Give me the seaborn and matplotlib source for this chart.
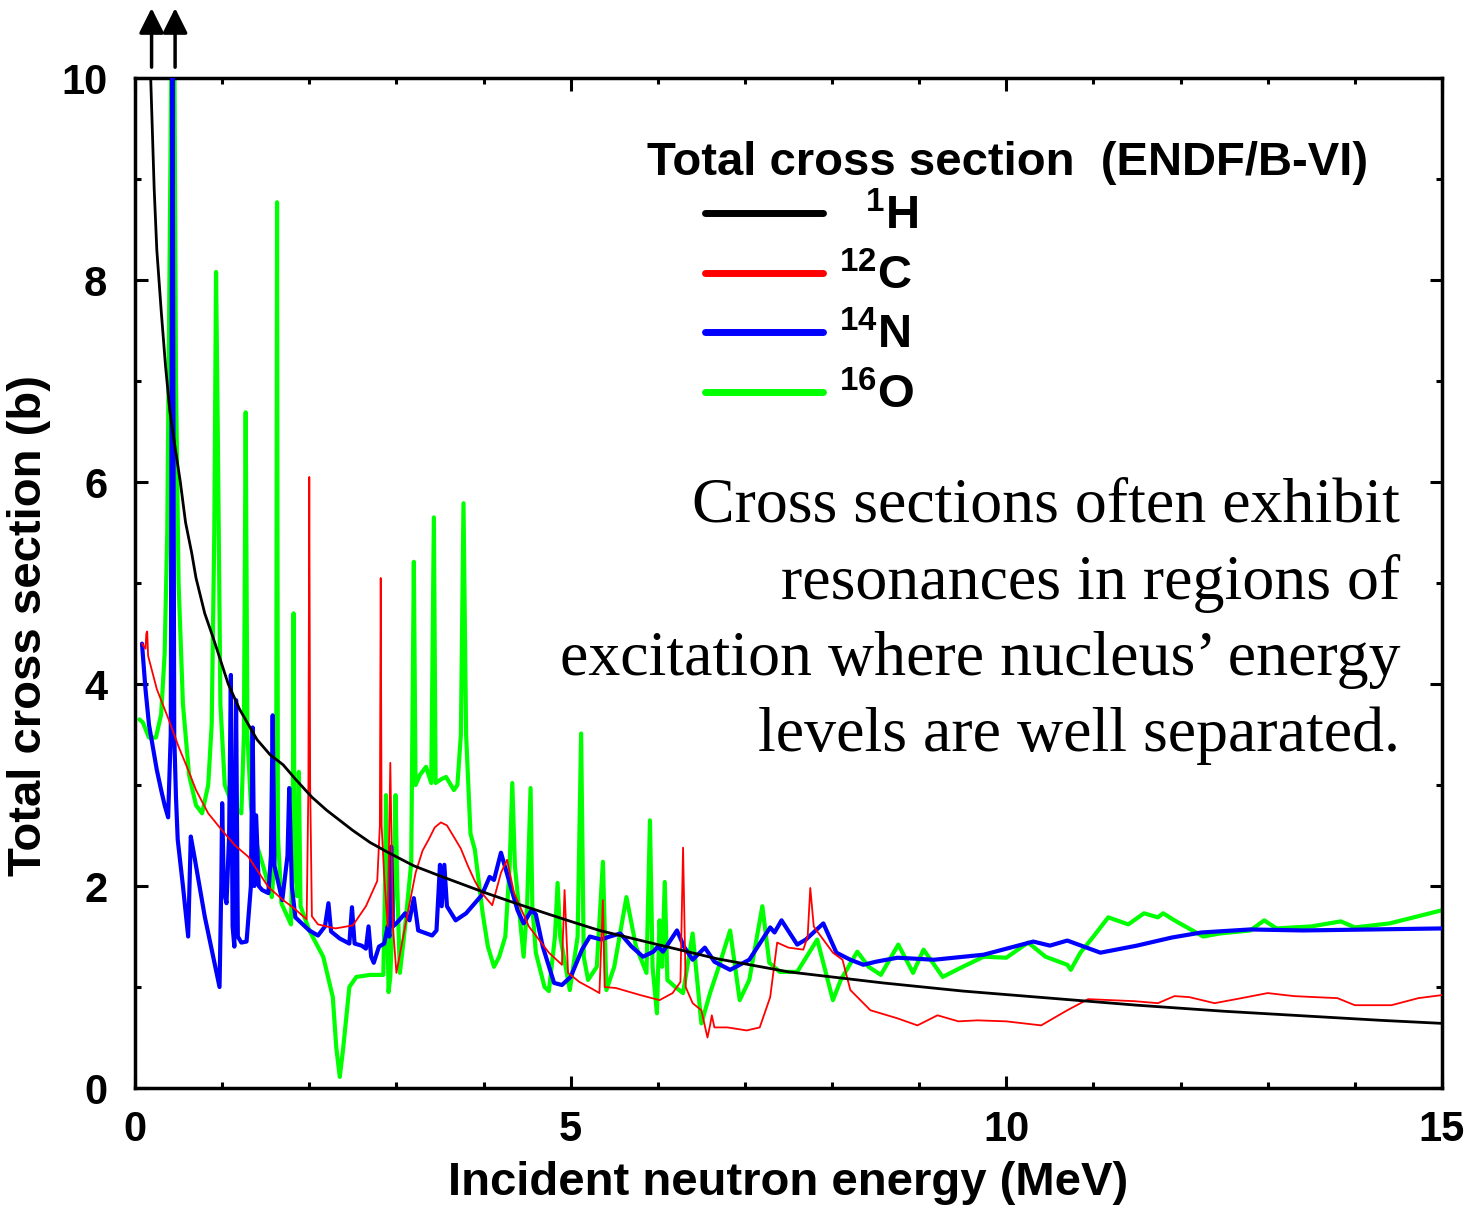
import matplotlib
matplotlib.use("Agg")
import matplotlib.pyplot as plt
import numpy as np
import pandas as pd
import seaborn as sns
from matplotlib.lines import Line2D
from matplotlib.ticker import MultipleLocator

# ENDF/B-VI total cross sections (energy in MeV, sigma in barns)
h_energy = [0.10, 0.13, 0.18, 0.22, 0.25, 0.30, 0.35, 0.40, 0.45, 0.52, 0.58, 0.65, 0.70, 0.80,
            0.90, 1.07, 1.20, 1.40, 1.55, 1.70, 1.85, 2.03, 2.20, 2.50, 2.70, 2.91, 3.20, 3.50,
            3.75, 4.03, 4.40, 4.75, 5.00, 5.33, 6.00, 6.68, 7.50, 8.59, 9.50, 10.5, 11.5, 12.5,
            13.5, 14.3, 15.0]
h_sigma = [12.7, 11.5, 10.0, 8.9, 8.3, 7.7, 7.15, 6.7, 6.4, 6.0, 5.6, 5.3, 5.05, 4.7,
           4.45, 4.0, 3.75, 3.45, 3.3, 3.2, 3.05, 2.88, 2.75, 2.55, 2.43, 2.33, 2.2, 2.1,
           2.02, 1.93, 1.82, 1.72, 1.65, 1.56, 1.42, 1.28, 1.15, 1.04, 0.96, 0.89, 0.82, 0.76,
           0.71, 0.67, 0.64]

c_energy = [0.08, 0.12, 0.13, 0.14, 0.15, 0.25, 0.39, 0.50, 0.61, 0.70, 0.84, 1.00, 1.15, 1.30,
            1.53, 1.70, 1.81, 1.97, 1.99, 2.00, 2.01, 2.03, 2.10, 2.30, 2.50, 2.65, 2.78, 2.81,
            2.82, 2.83, 2.86, 2.90, 2.93, 2.96, 3.00, 3.10, 3.22, 3.30, 3.37, 3.44, 3.51, 3.58,
            3.65, 3.74, 3.82, 3.90, 3.98, 4.10, 4.20, 4.27, 4.35, 4.52, 4.75, 4.90, 4.93, 4.97,
            5.10, 5.25, 5.33, 5.37, 5.39, 5.52, 5.80, 6.02, 6.17, 6.26, 6.29, 6.32, 6.40, 6.50,
            6.57, 6.60, 6.62, 6.65, 6.80, 7.02, 7.17, 7.29, 7.37, 7.50, 7.67, 7.72, 7.75, 7.79,
            7.83, 8.01, 8.12, 8.21, 8.44, 8.75, 8.98, 9.21, 9.45, 9.67, 10.0, 10.4, 10.7, 10.94,
            11.2, 11.47, 11.74, 11.93, 12.1, 12.39, 12.7, 13.0, 13.3, 13.54, 13.8, 14.0, 14.42,
            14.73, 15.0]
c_sigma = [4.40, 4.35, 4.50, 4.52, 4.28, 3.95, 3.64, 3.38, 3.15, 2.95, 2.72, 2.55, 2.40, 2.29,
           1.99, 1.86, 1.79, 1.67, 3.00, 6.05, 3.00, 1.70, 1.62, 1.58, 1.61, 1.80, 2.05, 2.60,
           5.05, 2.60, 2.10, 1.60, 3.22, 1.60, 1.14, 1.60, 2.13, 2.35, 2.46, 2.58, 2.63, 2.60,
           2.50, 2.37, 2.20, 2.05, 1.93, 1.81, 2.13, 2.26, 1.93, 1.60, 1.34, 1.22, 1.96, 1.14,
           1.05, 0.98, 0.94, 1.86, 1.00, 0.99, 0.92, 0.87, 0.94, 1.05, 2.38, 1.00, 0.84, 0.77,
           0.50, 0.62, 0.72, 0.60, 0.60, 0.57, 0.60, 0.90, 1.44, 1.39, 1.37, 1.50, 1.98, 1.60,
           1.55, 1.34, 1.27, 0.97, 0.77, 0.69, 0.62, 0.72, 0.66, 0.67, 0.66, 0.62, 0.77, 0.88,
           0.87, 0.86, 0.84, 0.91, 0.90, 0.84, 0.89, 0.94, 0.91, 0.90, 0.89, 0.82, 0.82,
           0.89, 0.92]

n_energy = [0.08, 0.12, 0.16, 0.20, 0.25, 0.30, 0.34, 0.38, 0.41, 0.43, 0.45, 0.47, 0.49, 0.55,
            0.61, 0.64, 0.68, 0.80, 0.97, 0.99, 1.00, 1.02, 1.05, 1.08, 1.10, 1.12, 1.14, 1.16,
            1.18, 1.22, 1.28, 1.33, 1.35, 1.37, 1.39, 1.42, 1.46, 1.53, 1.56, 1.58, 1.60, 1.69,
            1.75, 1.77, 1.80, 1.84, 2.00, 2.10, 2.18, 2.22, 2.25, 2.35, 2.46, 2.49, 2.52, 2.60,
            2.65, 2.68, 2.71, 2.74, 2.80, 2.86, 2.90, 2.92, 2.94, 2.96, 3.00, 3.10, 3.15, 3.20,
            3.25, 3.41, 3.46, 3.50, 3.52, 3.55, 3.58, 3.68, 3.80, 3.98, 4.07, 4.12, 4.20, 4.28,
            4.39, 4.46, 4.55, 4.60, 4.68, 4.81, 4.90, 5.00, 5.13, 5.22, 5.35, 5.45, 5.57, 5.70,
            5.83, 5.95, 6.00, 6.06, 6.22, 6.30, 6.40, 6.54, 6.65, 6.83, 7.05, 7.29, 7.34, 7.42,
            7.60, 7.70, 7.90, 8.05, 8.21, 8.36, 8.50, 8.75, 9.17, 9.74, 10.31, 10.5, 10.7, 11.08,
            11.5, 11.9, 12.24, 12.8, 13.4, 14.2, 15.0]
n_sigma = [4.40, 3.95, 3.60, 3.40, 3.15, 2.95, 2.80, 2.68, 3.50, 10.5, 3.50, 2.88, 2.46, 2.00,
           1.50, 2.49, 2.30, 1.70, 1.00, 2.00, 2.82, 1.95, 1.83, 2.50, 4.09, 1.60, 1.40, 3.84,
           1.50, 1.44, 1.45, 2.00, 3.57, 2.00, 2.70, 2.00, 1.96, 1.93, 2.30, 3.69, 2.20, 1.86,
           2.30, 2.97, 2.00, 1.69, 1.56, 1.51, 1.60, 1.83, 1.55, 1.48, 1.43, 1.79, 1.43, 1.41,
           1.38, 1.60, 1.30, 1.24, 1.40, 1.43, 1.60, 1.50, 2.39, 1.60, 1.63, 1.73, 1.66, 1.88,
           1.56, 1.51, 1.56, 2.21, 1.80, 2.21, 1.80, 1.66, 1.73, 1.91, 2.09, 2.06, 2.33, 2.09,
           1.76, 1.63, 1.76, 1.72, 1.40, 1.04, 1.02, 1.10, 1.37, 1.50, 1.47, 1.50, 1.53, 1.40,
           1.30, 1.35, 1.40, 1.35, 1.56, 1.40, 1.27, 1.39, 1.25, 1.17, 1.27, 1.59, 1.54, 1.66,
           1.42, 1.47, 1.63, 1.34, 1.27, 1.22, 1.25, 1.29, 1.27, 1.32, 1.45, 1.41, 1.46, 1.34,
           1.41, 1.49, 1.54, 1.57, 1.56, 1.57, 1.58]

o_energy = [0.05, 0.09, 0.16, 0.24, 0.30, 0.34, 0.37, 0.40, 0.42, 0.45, 0.47, 0.50, 0.55, 0.62,
            0.70, 0.77, 0.84, 0.88, 0.91, 0.93, 0.95, 0.98, 1.03, 1.12, 1.22, 1.25, 1.27, 1.29,
            1.33, 1.40, 1.46, 1.57, 1.62, 1.63, 1.64, 1.68, 1.79, 1.81, 1.82, 1.83, 1.86, 1.88,
            1.90, 2.00, 2.16, 2.27, 2.31, 2.35, 2.39, 2.46, 2.54, 2.70, 2.85, 2.87, 2.88, 2.89,
            2.91, 2.93, 2.97, 2.99, 3.01, 3.04, 3.10, 3.17, 3.20, 3.22, 3.27, 3.34, 3.40, 3.43,
            3.45, 3.52, 3.57, 3.66, 3.70, 3.74, 3.77, 3.80, 3.85, 3.90, 3.99, 4.05, 4.12, 4.18,
            4.25, 4.30, 4.33, 4.36, 4.46, 4.50, 4.54, 4.56, 4.60, 4.70, 4.75, 4.82, 4.85, 4.88,
            4.99, 5.08, 5.12, 5.15, 5.20, 5.30, 5.37, 5.41, 5.50, 5.64, 5.75, 5.87, 5.91, 5.94,
            5.99, 6.02, 6.05, 6.08, 6.11, 6.20, 6.29, 6.40, 6.50, 6.60, 6.70, 6.83, 6.94, 7.05,
            7.20, 7.28, 7.40, 7.60, 7.83, 8.01, 8.10, 8.29, 8.42, 8.56, 8.76, 8.93, 9.05, 9.27,
            9.50, 9.74, 10.0, 10.25, 10.45, 10.7, 10.74, 10.85, 11.0, 11.17, 11.4, 11.58, 11.74,
            11.8, 11.93, 12.26, 12.45, 12.8, 12.96, 13.1, 13.5, 13.84, 14.0, 14.4, 15.0]
o_sigma = [3.65, 3.62, 3.47, 3.47, 3.70, 4.30, 5.50, 8.50, 10.5, 10.5, 7.00, 5.00, 3.80, 3.10,
           2.80, 2.72, 3.00, 3.60, 5.50, 8.08, 6.50, 3.80, 3.00, 2.80, 2.72, 3.50, 6.69, 3.50,
           2.80, 2.40, 2.23, 1.89, 2.50, 8.77, 2.50, 1.83, 1.62, 2.50, 4.70, 2.30, 1.90, 3.13,
           1.80, 1.56, 1.30, 0.90, 0.40, 0.11, 0.40, 1.00, 1.10, 1.12, 1.12, 2.00, 2.90, 2.00,
           0.95, 1.10, 2.00, 2.90, 2.00, 1.14, 1.60, 2.23, 5.21, 3.00, 3.10, 3.18, 3.02, 5.65,
           3.02, 3.06, 3.08, 2.95, 3.00, 3.50, 5.79, 3.50, 2.52, 2.36, 1.73, 1.40, 1.20, 1.30,
           1.50, 2.20, 3.02, 2.20, 1.30, 1.80, 2.97, 1.80, 1.34, 1.00, 0.96, 1.50, 2.03, 1.50,
           0.97, 1.50, 3.51, 1.30, 1.07, 1.20, 2.24, 0.97, 1.20, 1.89, 1.40, 1.14, 2.65, 1.20,
           0.74, 1.66, 1.20, 2.04, 1.07, 1.00, 0.94, 1.53, 0.64, 0.94, 1.20, 1.56, 0.87, 1.07,
           1.80, 1.24, 1.15, 1.15, 1.47, 0.87, 1.07, 1.35, 1.20, 1.12, 1.42, 1.14, 1.37, 1.10,
           1.20, 1.30, 1.29, 1.44, 1.30, 1.22, 1.17, 1.34, 1.50, 1.69, 1.62, 1.73, 1.69,
           1.73, 1.66, 1.50, 1.53, 1.56, 1.66, 1.58, 1.60, 1.65, 1.59, 1.63, 1.76]

series_names = ["$^{1}$H", "$^{12}$C", "$^{14}$N", "$^{16}$O"]
series_colors = ["#000000", "#ff0000", "#0000ff", "#00ff00"]
series_widths = [2.0, 1.3, 3.0, 3.0]
off_scale_energies = [0.19, 0.46]  # resonances that run off the top of the plot

note_lines = ["Cross sections often exhibit",
              "resonances in regions of",
              "excitation where nucleus\u2019 energy",
              "levels are well separated."]

sns.set_style("ticks")
plt.rcParams["font.family"] = ["Liberation Sans", "DejaVu Sans"]
plt.rcParams["font.weight"] = "bold"
plt.rcParams["text.color"] = "black"
plt.rcParams["axes.labelcolor"] = "black"
plt.rcParams["mathtext.fontset"] = "custom"
plt.rcParams["mathtext.rm"] = "Liberation Sans:bold"
plt.rcParams["mathtext.bf"] = "Liberation Sans:bold"
plt.rcParams["mathtext.default"] = "rm"

fig = plt.figure(figsize=(14.66, 12.12), dpi=100)
ax = fig.add_axes([0.0921, 0.1023, 0.8915, 0.8333])

frames = {
    "H": pd.DataFrame({"energy": h_energy, "sigma": h_sigma}),
    "C": pd.DataFrame({"energy": c_energy, "sigma": c_sigma}),
    "N": pd.DataFrame({"energy": n_energy, "sigma": n_sigma}),
    "O": pd.DataFrame({"energy": o_energy, "sigma": o_sigma}),
}
keys = ["H", "C", "N", "O"]
# draw oxygen first so nitrogen, carbon and hydrogen sit on top of it
for idx in [3, 2, 1, 0]:
    sns.lineplot(data=frames[keys[idx]], x="energy", y="sigma", ax=ax, estimator=None,
                 sort=False, color=series_colors[idx], linewidth=series_widths[idx],
                 legend=False, zorder=2 + (3 - idx))

ax.set_xlim(0, 15)
ax.set_ylim(0, 10)
ax.xaxis.set_major_locator(MultipleLocator(5))
ax.xaxis.set_minor_locator(MultipleLocator(1))
ax.yaxis.set_major_locator(MultipleLocator(2))
ax.yaxis.set_minor_locator(MultipleLocator(1))
ax.tick_params(which="both", direction="in", top=True, right=True, width=2.2,
               colors="black", labelcolor="black")
ax.tick_params(which="major", length=9, labelsize=30)
ax.tick_params(axis="x", which="major", pad=16)
ax.tick_params(axis="y", which="major", pad=20)
ax.tick_params(which="minor", length=4.5)
for spine in ax.spines.values():
    spine.set_linewidth(2.5)
    spine.set_color("black")

ax.set_xlabel("Incident neutron energy (MeV)", fontsize=34, fontweight="bold", labelpad=8)
ax.set_ylabel("Total cross section (b)", fontsize=34, fontweight="bold")
ax.yaxis.set_label_coords(-0.064, 0.458)

for energy in off_scale_energies:
    ax.annotate("", xy=(energy, 10.72), xytext=(energy, 10.08),
                arrowprops=dict(arrowstyle="-|>", color="black", lw=2.5, mutation_scale=38),
                annotation_clip=False)

ax.text(0.392, 0.916, "Total cross section  (ENDF/B-VI)", transform=ax.transAxes,
        fontsize=34, fontweight="bold", ha="left", va="center")

handles = [Line2D([], [], color=c, lw=5) for c in series_colors]
labels = [series_names[0].replace("$^{1}$", "  $^{1}$")] + series_names[1:]
leg = ax.legend(handles, labels, loc="upper left", bbox_to_anchor=(0.436, 0.885),
                frameon=False, fontsize=34, handlelength=2.5, handletextpad=0.35,
                labelspacing=0.31, borderpad=0, borderaxespad=0)
for txt in leg.get_texts():
    txt.set_fontweight("bold")
    txt.set_color("black")

ax.text(0.968, 0.604, "\n".join(note_lines), transform=ax.transAxes,
        fontsize=46, family=["Liberation Serif", "DejaVu Serif"], fontweight="normal",
        color="black", ha="right", va="top", multialignment="right", linespacing=1.40)

fig.savefig("out.png", dpi=100)
